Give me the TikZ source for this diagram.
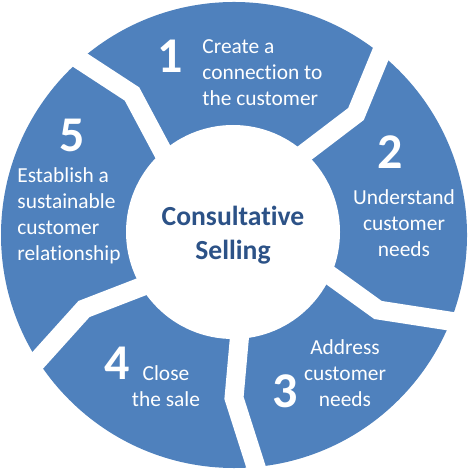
\documentclass[tikz,border=0pt]{standalone}
\usepackage{fontspec}
\setmainfont{Carlito}[Ligatures={NoCommon}]
\usepackage{tikz}

\definecolor{ringblue}{RGB}{79,129,189}
\definecolor{hubblue}{RGB}{44,82,135}

\begin{document}
\begin{tikzpicture}[x=0.5pt,y=-0.5pt,
    gap/.style={white, line width=9.5pt, line join=miter},
    stepnum/.style={text=white, font=\fontsize{25}{30}\selectfont\bfseries, inner sep=0pt},
    steptext/.style={text=white, font=\fontsize{10.7}{13}\selectfont, inner sep=0pt},
    hubtext/.style={text=hubblue, font=\fontsize{13.8}{17}\selectfont\bfseries, align=center, inner sep=0pt}]
\useasboundingbox (0,0) rectangle (474,474);
\fill[ringblue] (234,235) circle (233);
\fill[white] (233,232) circle (107);
% white cuts between the steps
\foreach \o/\k/\i in {{391,29}/{356,114}/{289,165}, {60,47}/{132,94}/{172,169},
    {475,325}/{378,310}/{317,266}, {264,492}/{234,398}/{241,320},
    {20,380}/{84,309}/{159,280}}
    \draw[gap] (\o) -- (\k) -- (\i);
\node[hubtext] (hub) at (233,235) {Consultative\\Selling};
\node[stepnum] (n1) at (170,56) {1};
\node[stepnum] (n2) at (390,152) {2};
\node[stepnum] (n3) at (285,391) {3};
\node[stepnum] (n4) at (117,363) {4};
\node[stepnum] (n5) at (72,135) {5};
\node[steptext, align=left, anchor=west] (t1) at (202,73) {Create a\\connection to\\the customer};
\node[steptext, align=center] (t2) at (404,223) {Understand\\customer\\needs};
\node[steptext, align=center] (t3) at (345,373) {Address\\customer\\needs};
\node[steptext, align=center] (t4) at (166,386) {Close\\the sale};
\node[steptext, align=left, anchor=west] (t5) at (17,216) {Establish a\\sustainable\\customer\\relationship};
\end{tikzpicture}
\end{document}
